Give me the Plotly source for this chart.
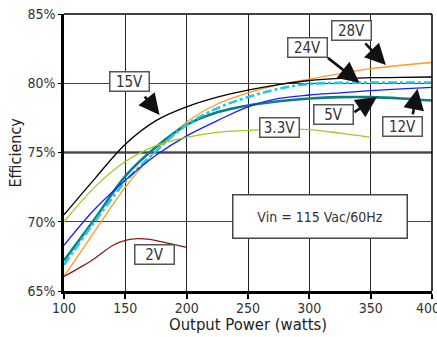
import plotly.graph_objects as go

# ---- data ----
power_full = [100, 125, 150, 175, 200, 225, 250, 275, 300, 325, 350, 375, 400]

eff_15v = [70.5, 73.1, 75.6, 77.3, 78.3, 79.0, 79.5, 79.9, 80.2, 80.35, 80.4, 80.42, 80.45]
eff_12v = [67.2, 70.2, 73.3, 75.4, 77.0, 77.9, 78.4, 78.7, 78.9, 79.0, 79.0, 78.9, 78.75]
eff_5v = [68.3, 70.9, 73.0, 74.8, 76.2, 77.3, 78.3, 78.9, 79.15, 79.3, 79.47, 79.6, 79.7]
eff_24v = [66.9, 70.0, 72.9, 75.1, 77.0, 78.2, 79.0, 79.6, 79.95, 80.03, 80.05, 80.05, 80.05]
eff_28v = [66.05, 69.3, 72.5, 75.1, 77.2, 78.5, 79.3, 79.9, 80.3, 80.7, 81.05, 81.3, 81.5]

power_33v = [100, 125, 150, 175, 200, 225, 250, 275, 300, 325, 350]
eff_33v = [70.0, 72.5, 74.35, 75.5, 76.1, 76.45, 76.6, 76.7, 76.65, 76.4, 76.1]

power_2v = [100, 115, 125, 140, 150, 160, 170, 180, 190, 200]
eff_2v = [66.05, 66.8, 67.35, 68.3, 68.65, 68.78, 68.72, 68.55, 68.35, 68.15]

x_ticks = [100, 150, 200, 250, 300, 350, 400]
x_tick_labels = ["100", "150", "200", "250", "300", "350", "400\u00a0\u00a0"]
y_ticks = [65, 70, 75, 80, 85]
y_tick_labels = ["65%", "70%", "75%", "80%", "85%"]

x_title = "Output Power (watts)"
y_title = "Efficiency"

# label boxes: text, x, y
box_labels = ["15V", "28V", "24V", "5V", "12V", "3.3V", "2V"]
box_x = [153.0, 334.0, 298.2, 319.7, 376.0, 275.8, 174.1]
box_y = [80.12, 83.81, 82.6, 77.75, 76.9, 76.81, 67.66]

# arrows: tip (data) and start offset (px)
arrow_tip_x = [177.9, 362.4, 340.8, 355.1, 388.2]
arrow_tip_y = [77.7, 81.32, 80.04, 79.0, 79.6]
arrow_ax = [-16, -22, -33, -24, -5]
arrow_ay = [-20, -23, -26, 16, 27]

note_text = "Vin = 115 Vac/60Hz"
note_x, note_y = 308.4, 70.37

FONT = "DejaVu Sans Condensed, Liberation Sans Narrow, Liberation Sans, sans-serif"

fig = go.Figure()

series = [
    ("28V", power_full, eff_28v, "#ff9a1e", 1.3, "solid"),
    ("12V", power_full, eff_12v, "#0b7f80", 2.6, "solid"),
    ("24V", power_full, eff_24v, "#1ec6f0", 2.6, "dashdot"),
    ("5V", power_full, eff_5v, "#1c1cf5", 1.3, "solid"),
    ("3.3V", power_33v, eff_33v, "#9ccc1e", 1.3, "solid"),
    ("15V", power_full, eff_15v, "#000000", 1.3, "solid"),
    ("2V", power_2v, eff_2v, "#8b1a1a", 1.3, "solid"),
]
for name, xs, ys, col, w, dash in series:
    fig.add_trace(go.Scatter(
        x=xs, y=ys, mode="lines", name=name,
        line=dict(color=col, width=w, dash=dash, shape="spline", smoothing=1.0),
        showlegend=False, hoverinfo="skip"))

# horizontal emphasis line at 75%, top & right borders
fig.add_shape(type="line", xref="paper", x0=0, x1=1, yref="y", y0=75, y1=75,
              line=dict(color="#000", width=2), layer="below")
fig.add_shape(type="line", xref="paper", x0=0, x1=1, yref="paper", y0=1, y1=1,
              line=dict(color="#000", width=1.5))
fig.add_shape(type="line", xref="paper", x0=1, x1=1, yref="paper", y0=0, y1=1,
              line=dict(color="#000", width=1.5))

for t, x, y in zip(box_labels, box_x, box_y):
    fig.add_annotation(x=x, y=y, text=t, showarrow=False,
                       font=dict(family=FONT, size=15, color="#333"),
                       bgcolor="white", bordercolor="#555", borderwidth=1.5,
                       borderpad=1, width=36, height=16)

for tx, ty, ax, ay in zip(arrow_tip_x, arrow_tip_y, arrow_ax, arrow_ay):
    fig.add_annotation(x=tx, y=ty, ax=ax, ay=ay, text="", showarrow=True,
                       arrowhead=2, arrowsize=1.6, arrowwidth=2.6,
                       arrowcolor="#111", standoff=0, startstandoff=0)

fig.add_annotation(x=note_x, y=note_y, text=note_text, showarrow=False,
                   font=dict(family=FONT, size=14, color="#333"),
                   bgcolor="white", bordercolor="#444", borderwidth=1.5,
                   borderpad=1, width=171, height=40)

# axis titles
fig.add_annotation(xref="paper", yref="paper", x=0.5, y=0, yshift=-33,
                   text=x_title, showarrow=False, yanchor="middle",
                   font=dict(family=FONT, size=16.5, color="#222"))
fig.add_annotation(xref="paper", yref="paper", x=0, y=0.5, xshift=-49,
                   text=y_title, showarrow=False, textangle=-90, xanchor="center",
                   font=dict(family=FONT, size=16, color="#222"))

fig.update_layout(
    width=437, height=337,
    margin=dict(l=64, r=5, t=14, b=46, autoexpand=False),
    paper_bgcolor="white", plot_bgcolor="white",
    font=dict(family=FONT, color="#333"),
    xaxis=dict(range=[100, 400], tickvals=x_ticks, ticktext=x_tick_labels,
               showgrid=True, gridcolor="#222", gridwidth=1,
               showline=True, linecolor="#000", linewidth=2.5,
               ticks="outside", ticklen=5, tickwidth=1.5, tickcolor="#000",
               tickfont=dict(family=FONT, size=14, color="#333"),
               ticklabeloverflow="allow", ticklabelstandoff=-3,
               automargin=False, zeroline=False, fixedrange=True),
    yaxis=dict(range=[65, 85], tickvals=y_ticks, ticktext=y_tick_labels,
               showgrid=True, gridcolor="#444", gridwidth=1,
               showline=True, linecolor="#000", linewidth=2.5,
               ticks="outside", ticklen=3, tickwidth=1, tickcolor="#000",
               tickfont=dict(family=FONT, size=14, color="#333"),
               ticklabeloverflow="allow",
               automargin=False, zeroline=False, fixedrange=True),
)

# remove the default page margin so the figure fills the window exactly
fig.write_html("out.html", config={"displayModeBar": False},
               post_script="document.body.style.margin='0';document.body.style.overflow='hidden';")
